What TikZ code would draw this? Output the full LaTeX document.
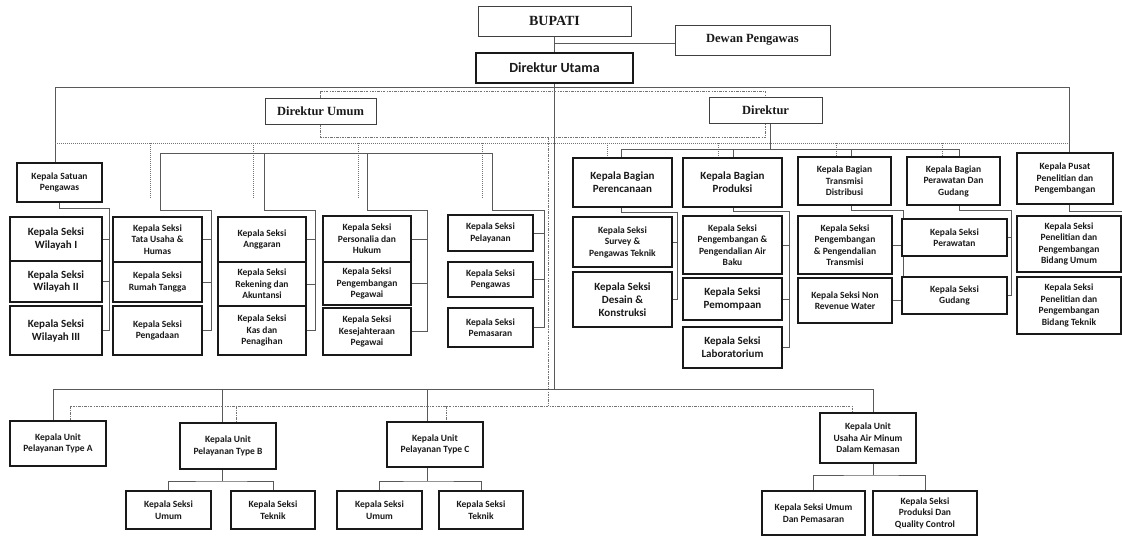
\documentclass[tikz,border=0pt]{standalone}
\usepackage{fontspec}
\setmainfont{Liberation Serif}
\newfontfamily\carl{Carlito}
\pgfdeclarelayer{bg}
\pgfsetlayers{bg,main}
\newcommand\BX[7]{\node[#6, minimum width={(#3)-(#2)}, minimum height={(#5)-(#4)}] (#1) at ({((#2)+(#3))/2},{((#4)+(#5))/2}) {#7};}
\begin{document}
\begin{tikzpicture}[x=1pt,y=-1pt,
 ln/.style={draw=black!65, line width=0.9pt},
 dd/.style={draw=black!55, line width=0.8pt, dash pattern=on 2.5pt off 1.2pt on 0.8pt off 1.2pt},
 dt/.style={draw=black!55, line width=0.8pt, dash pattern=on 1pt off 1pt},
 bx/.style={draw=black!90, line width=1.3pt, fill=white, inner sep=0pt, align=center, text=black!90, font=\carl\bfseries\fontsize{9.5}{11.5}\selectfont},
 bxl/.style={bx, font=\carl\bfseries\fontsize{11}{13}\selectfont},
 tp/.style={draw=black!75, line width=1pt, fill=white, inner sep=0pt, align=center, text=black!90, font=\bfseries\fontsize{12.5}{14}\selectfont},
]
\useasboundingbox (0,0) rectangle (1122,536);
% top
\BX{bupati}{478}{631}{6}{36}{tp,font=\bfseries\fontsize{14}{16}\selectfont}{BUPATI}
\BX{dewan}{675}{830}{25}{55}{tp}{Dewan Pengawas}
\BX{dirut}{476}{633}{53}{83}{bx,line width=2pt,font=\carl\bfseries\fontsize{14}{16}\selectfont}{Direktur Utama}
\BX{dirum}{265}{376}{98}{124}{tp}{Direktur Umum}
\BX{dir}{709}{822}{97}{123}{tp}{Direktur}
% left group
\BX{ksp}{17}{102}{163}{202}{bx}{Kepala Satuan\\Pengawas}
\BX{w1}{10}{102}{217}{261}{bxl}{Kepala Seksi\\Wilayah I}
\BX{w2}{10}{102}{261}{302}{bxl}{Kepala Seksi\\Wilayah II}
\BX{w3}{10}{102}{306}{355}{bxl}{Kepala Seksi\\Wilayah III}
\BX{t1}{113}{202}{217}{262}{bx}{Kepala Seksi\\Tata Usaha \&\\Humas}
\BX{t2}{113}{202}{262}{302}{bx}{Kepala Seksi\\Rumah Tangga}
\BX{t3}{113}{202}{306}{355}{bx}{Kepala Seksi\\Pengadaan}
\BX{a1}{218}{306}{217}{262}{bx}{Kepala Seksi\\Anggaran}
\BX{a2}{218}{306}{262}{306}{bx}{Kepala Seksi\\Rekening dan\\Akuntansi}
\BX{a3}{218}{306}{306}{355}{bx,line width=1.7pt}{Kepala Seksi\\Kas dan\\Penagihan}
\BX{p1}{323}{411}{216}{262}{bx}{Kepala Seksi\\Personalia dan\\Hukum}
\BX{p2}{323}{411}{262}{305}{bx}{Kepala Seksi\\Pengembangan\\Pegawai}
\BX{p3}{323}{411}{308}{355}{bx}{Kepala Seksi\\Kesejahteraan\\Pegawai}
\BX{l1}{448}{533}{215}{251}{bx}{Kepala Seksi\\Pelayanan}
\BX{l2}{448}{533}{262}{297}{bx}{Kepala Seksi\\Pengawas}
\BX{l3}{448}{533}{308}{347}{bx}{Kepala Seksi\\Pemasaran}
% right group
\BX{ren}{573}{672}{158}{207}{bxl}{Kepala Bagian\\Perencanaan}
\BX{pro}{683}{782}{158}{207}{bxl}{Kepala Bagian\\Produksi}
\BX{tra}{798}{891}{157}{205}{bx}{Kepala Bagian\\Transmisi\\Distribusi}
\BX{pg}{907}{1000}{157}{205}{bx}{Kepala Bagian\\Perawatan Dan\\Gudang}
\BX{pus}{1017}{1113}{153}{204}{bx}{Kepala Pusat\\Penelitian dan\\Pengembangan}
\BX{sur}{573}{672}{217}{267}{bx}{Kepala Seksi\\Survey \&\\Pengawas Teknik}
\BX{des}{573}{672}{272}{327}{bxl}{Kepala Seksi\\Desain \&\\Konstruksi}
\BX{air}{683}{782}{216}{274}{bx}{Kepala Seksi\\Pengembangan \&\\Pengendalian Air\\Baku}
\BX{pom}{683}{782}{278}{320}{bxl}{Kepala Seksi\\Pemompaan}
\BX{lab}{683}{782}{327}{368}{bxl}{Kepala Seksi\\Laboratorium}
\BX{ptr}{798}{892}{216}{274}{bx}{Kepala Seksi\\Pengembangan\\\& Pengendalian\\Transmisi}
\BX{nrw}{798}{892}{278}{323}{bx}{Kepala Seksi Non\\Revenue Water}
\BX{per}{902}{1007}{219}{256}{bx}{Kepala Seksi\\Perawatan}
\BX{gud}{902}{1007}{277}{314}{bx}{Kepala Seksi\\Gudang}
\BX{bu}{1017}{1121}{216}{272}{bx}{Kepala Seksi\\Penelitian dan\\Pengembangan\\Bidang Umum}
\BX{bt}{1017}{1121}{277}{334}{bx}{Kepala Seksi\\Penelitian dan\\Pengembangan\\Bidang Teknik}
% bottom
\BX{ua}{10}{106}{421}{466}{bx}{Kepala Unit\\Pelayanan Type A}
\BX{ub}{180}{276}{423}{469}{bx}{Kepala Unit\\Pelayanan Type B}
\BX{uc}{387}{483}{422}{467}{bx}{Kepala Unit\\Pelayanan Type C}
\BX{uam}{820}{916}{413}{463}{bx}{Kepala Unit\\Usaha Air Minum\\Dalam Kemasan}
\BX{bbu}{126}{211}{491}{529}{bx}{Kepala Seksi\\Umum}
\BX{bbt}{231}{315}{491}{529}{bx}{Kepala Seksi\\Teknik}
\BX{bcu}{337}{422}{491}{529}{bx}{Kepala Seksi\\Umum}
\BX{bct}{439}{523}{491}{529}{bx}{Kepala Seksi\\Teknik}
\BX{usu}{762}{865}{491}{535}{bx}{Kepala Seksi Umum\\Dan Pemasaran}
\BX{usp}{873}{977}{491}{535}{bx}{Kepala Seksi\\Produksi Dan\\Quality Control}

\begin{pgfonlayer}{bg}
% top connectors
\coordinate (jB) at (554.5,43);
\draw[ln] (bupati.south) -- (dirut.north);
\draw[ln] (jB) -- (jB -| dewan.west);
\coordinate (fwL) at (55,87);
\coordinate (fwR) at (1069,87);
\draw[ln] (fwL |- ksp.north) -- (fwL) -- (fwR) -- (fwR |- pus.north);
\coordinate (cB) at (554.5,389);
\draw[ln] (dirut.south) -- (cB);
\draw[dd] (dirum.north) -- ++(0,-6) -| (dir.north);
\draw[dd] (dirum.south) -- ++(0,13) -| (dir.south);
% row dotted
\coordinate (rL) at (55,143);
\coordinate (rR) at (1069,143);
\draw[dt] (rL) -- (rR);
\foreach \x in {150,253,358,482}{\draw[dt] (\x,143) -- (\x,198);}
\foreach \x in {607,718,836,942}{\draw[dt] (\x,143) -- (\x,157);}
\draw[dd] (548,137) -- (548,406);
% left group
\coordinate (lg1) at (160,153);
\coordinate (lg2) at (492,153);
\coordinate (lgA) at (264,153);
\coordinate (lgP) at (367,153);
\draw[ln] (lg1) -- (lg2);
\coordinate (bW) at (109,208);
\coordinate (bT) at (211,210);
\coordinate (bA) at (315,210);
\coordinate (bP) at (427,210);
\coordinate (bL) at (544,210);
\draw[ln] (ksp.south) |- (bW) |- (w3.east);
\draw[ln] (w1.east) -- (w1.east -| bW);
\draw[ln] (w2.east) -- (w2.east -| bW);
\draw[ln] (lg1) |- (bT) |- (t3.east);
\draw[ln] (t1.east) -- (t1.east -| bT);
\draw[ln] (t2.east) -- (t2.east -| bT);
\draw[ln] (lgA) |- (bA) |- (a3.east);
\draw[ln] (a1.east) -- (a1.east -| bA);
\draw[ln] (a2.east) -- (a2.east -| bA);
\draw[ln] (lgP) |- (bP) |- (p3.east);
\draw[ln] (p1.east) -- (p1.east -| bP);
\draw[ln] (p2.east) -- (p2.east -| bP);
\draw[ln] (lg2) |- (bL) |- (l3.east);
\draw[ln] (l1.east) -- (l1.east -| bL);
\draw[ln] (l2.east) -- (l2.east -| bL);
% right group
\coordinate (rj) at (770,149);
\coordinate (rj1) at (621,149);
\coordinate (rj2) at (959,149);
\coordinate (rjP) at (733,149);
\coordinate (rjT) at (851,149);
\draw[ln] (dir.south -| rj) -- (rj);
\draw[ln] (rj1) -- (rj2);
\draw[ln] (rj1) -- (rj1 |- ren.north);
\draw[ln] (rjP) -- (rjP |- pro.north);
\draw[ln] (rjT) -- (rjT |- tra.north);
\draw[ln] (rj2) -- (rj2 |- pg.north);
\coordinate (bRE) at (677,212);
\coordinate (bPR) at (789,211);
\coordinate (bTR) at (903,210);
\coordinate (bPG) at (1011,210);
\coordinate (bPU) at (1122,211);
\draw[ln] (ren.south -| rj1) |- (bRE) |- (des.east);
\draw[ln] (sur.east) -- (sur.east -| bRE);
\draw[ln] (pro.south -| rjP) |- (bPR) |- (lab.east);
\draw[ln] (air.east) -- (air.east -| bPR);
\draw[ln] (pom.east) -- (pom.east -| bPR);
\draw[ln] (tra.south -| rjT) |- (bTR) |- (nrw.east);
\draw[ln] (ptr.east) -- (ptr.east -| bTR);
\draw[ln] (pg.south -| rj2) |- (bPG) |- (gud.east);
\draw[ln] (per.east) -- (per.east -| bPG);
\draw[ln] (pus.south -| fwR) |- (bPU);
% bottom
\coordinate (bl) at (53,389);
\coordinate (br) at (873,389);
\coordinate (dB) at (222,389);
\coordinate (dC) at (427,389);
\draw[ln] (bl) -- (br);
\draw[ln] (bl) -- (bl |- ua.north);
\draw[ln] (dB) -- (dB |- ub.north);
\draw[ln] (dC) -- (dC |- uc.north);
\draw[ln] (br) -- (br |- uam.north);
\coordinate (oL) at (70,406);
\coordinate (oR) at (852,406);
\coordinate (oB) at (236,406);
\coordinate (oC) at (446,406);
\draw[dd] (oL |- ua.north) -- (oL) -- (oR) -- (oR |- uam.north);
\draw[dd] (oB) -- (oB |- ub.north);
\draw[dd] (oC) -- (oC |- uc.north);
\coordinate (sB) at (222,481);
\coordinate (sC) at (427,481);
\coordinate (sU) at (873,475);
\draw[ln] (ub.south -| sB) -- (sB);
\draw[ln] (bbu.north) |- (sB) -| (bbt.north);
\draw[ln] (uc.south -| sC) -- (sC);
\draw[ln] (bcu.north) |- (sC) -| (bct.north);
\draw[ln] (uam.south -| sU) -- (sU);
\draw[ln] (usu.north) |- (sU) -| (usp.north);
\end{pgfonlayer}
\end{tikzpicture}
\end{document}
